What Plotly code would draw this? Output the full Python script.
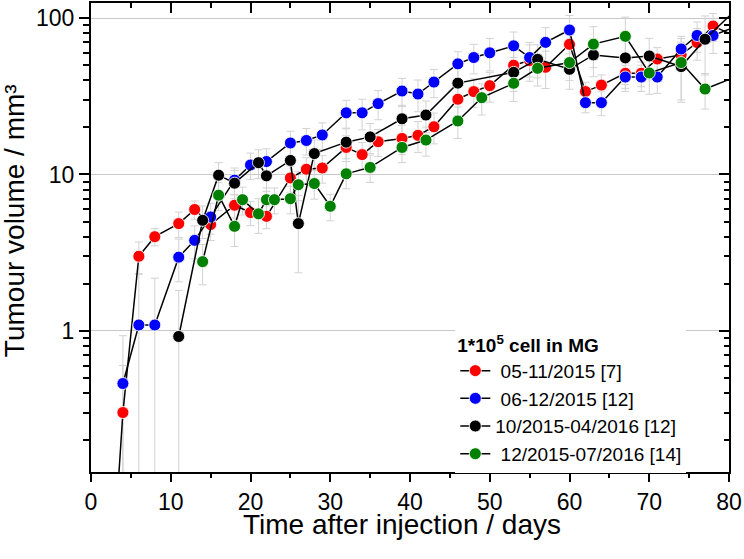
import math
import plotly.graph_objects as go

# ---- data ----
red_days = [3, 4, 6, 8, 11, 13, 15, 18, 20, 22, 25, 27, 29, 32, 34, 36, 39, 41, 43, 46, 48, 50,
            53, 55, 57, 60, 62, 64, 67, 69, 71, 74, 76, 78, 81]
red_vol = [0.05, 0.30, 3.0, 4.0, 4.85, 5.97, 4.78, 6.36, 5.71, 5.4, 9.5, 10.8, 11.0, 14.9, 13.4, 16.2,
           17.0, 17.8, 20.2, 30.3, 33.9, 37.0, 50, 53.5, 48.5, 68, 33.9, 37.3, 44.4, 44.4, 54.8, 58.2,
           69.8, 89, 76]
red_err = [0.0, 0.3, 0.7, 0.5, 0.9, 0.8, 1.0, 1.1, 1.0, 0.9, 1.8, 2.0, 2.2, 2.8, 2.6, 3.2, 3.6, 4.0,
           4.5, 6.5, 7.0, 8.0, 12, 14, 13, 16, 5, 6, 9, 8, 10, 12, 16, 18, 15]

blue_days = [4, 6, 8, 11, 13, 15, 18, 20, 22, 25, 27, 29, 32, 34, 36, 39, 41, 43, 46, 48, 50, 53,
             55, 57, 60, 62, 64, 67, 69, 71, 74, 76, 78, 81]
blue_vol = [0.46, 1.09, 1.09, 2.96, 3.79, 5.35, 9.2, 11.5, 12.1, 15.9, 16.5, 17.9, 24.8, 24.8, 28.4,
            34.2, 32.7, 39, 51, 56, 60, 66.5, 56, 70, 84, 28.8, 28.8, 42, 42, 42, 63.5, 77.5, 77.5, 89]
blue_err = [0.47, 1.23, 1.08, 0.9, 0.9, 1.2, 1.8, 2.2, 2.5, 3.0, 3.2, 3.5, 5, 5.5, 6, 7, 7.5, 8, 10,
            12, 14, 15, 14, 17, 20, 4, 5, 8, 8, 9, 13, 17, 18, 18]

black_days = [11, 14, 16, 18, 21, 22, 25, 26, 28, 32, 35, 39, 42, 46, 53, 56, 60, 63, 67, 70, 74,
              77, 81]
black_vol = [0.92, 5.09, 9.9, 8.8, 11.9, 9.8, 12.3, 4.85, 13.6, 16.1, 17.4, 22.7, 24.0, 38.4, 45,
             54.5, 47.1, 58.2, 55.7, 57.3, 49, 73.3, 115]
black_err = [0.89, 1.2, 2.0, 1.8, 2.5, 2.0, 2.8, 2.5, 3.0, 3.5, 3.8, 5, 5.5, 9, 11, 13, 12, 16, 18,
             17, 20, 30, 25]

green_days = [14, 16, 18, 19, 21, 22, 23, 25, 26, 28, 30, 32, 35, 39, 42, 46, 49, 53, 56, 60, 63,
              67, 70, 74, 77, 81]
green_vol = [2.77, 7.37, 4.66, 6.9, 5.6, 6.9, 6.9, 7.0, 8.6, 8.75, 6.26, 10.1, 11.1, 14.9, 16.6, 22,
             31, 38.3, 47.8, 52, 68.2, 76.5, 44.6, 52, 35.2, 42.5]
green_err = [0.8, 1.5, 1.2, 1.4, 1.4, 1.3, 1.3, 1.4, 1.8, 1.8, 1.2, 2.0, 2.2, 3, 3.5, 5, 7, 9, 11,
             12, 20, 25, 12, 22, 9, 10]

series_names = [" 05-11/2015 [7]", " 06-12/2015 [12]", "10/2015-04/2016 [12]", " 12/2015-07/2016 [14]"]
series_colors = ["#ff0000", "#0000ff", "#000000", "#008000"]
legend_title = "<b>1*10<sup>5</sup> cell in MG</b>"
x_title = "Time after injection / days"
y_title = "Tumour volume / mm³"

FONT = "Liberation Sans, Arial, sans-serif"

series = [
    (red_days, red_vol, red_err),
    (blue_days, blue_vol, blue_err),
    (black_days, black_vol, black_err),
    (green_days, green_vol, green_err),
]

fig = go.Figure()

# error bars first (behind everything)
for (d, v, e) in series:
    fig.add_trace(go.Scatter(
        x=d, y=v, mode="markers",
        marker=dict(size=1, opacity=0),
        error_y=dict(type="data", array=e, visible=True, color="#d2d2d2", thickness=1, width=4),
        showlegend=False, hoverinfo="skip"))

for (d, v, e), name, col in zip(series, series_names, series_colors):
    fig.add_trace(go.Scatter(
        x=d, y=v, mode="lines+markers", name=name,
        line=dict(color="black", width=1.5),
        marker=dict(size=12, color=col, line=dict(color="rgba(255,255,255,0.85)", width=1)),
    ))

# empty trace to create mirrored axes (top / right)
fig.add_trace(go.Scatter(x=[], y=[], xaxis="x2", yaxis="y2", showlegend=False, hoverinfo="skip"))

yr = [math.log10(0.125), math.log10(125)]

fig.update_layout(
    width=744, height=559,
    margin=dict(l=91, r=15, t=3, b=87),
    paper_bgcolor="white", plot_bgcolor="white",
    font=dict(family=FONT, size=23, color="black"),
    showlegend=True,
    xaxis=dict(
        range=[0, 80], tickmode="linear", tick0=0, dtick=10,
        ticks="outside", ticklen=8, tickwidth=1.5, tickcolor="black",
        minor=dict(ticks="outside", ticklen=4, tickwidth=1.5, tickcolor="black", dtick=5, showgrid=False),
        showline=True, linewidth=2, linecolor="black", showgrid=False, zeroline=False,
        tickfont=dict(size=23),
    ),
    xaxis2=dict(
        range=[0, 80], overlaying="x", side="top", anchor="y", tickmode="linear", tick0=0, dtick=10,
        ticks="inside", ticklen=10, tickwidth=1.5, tickcolor="black",
        minor=dict(ticks="inside", ticklen=5, tickwidth=1.5, tickcolor="black", dtick=5, showgrid=False),
        showline=True, linewidth=2, linecolor="black", showgrid=False, zeroline=False,
        showticklabels=False,
    ),
    yaxis=dict(
        type="log", range=yr, tickmode="linear", tick0=0, dtick=1,
        ticks="outside", ticklen=10, tickwidth=1.5, tickcolor="black",
        minor=dict(ticks="outside", ticklen=6, tickwidth=1.5, tickcolor="black", dtick="D1", showgrid=False),
        showline=True, linewidth=2, linecolor="black",
        showgrid=True, gridcolor="#c8c8c8", gridwidth=1, zeroline=False,
        tickfont=dict(size=23),
    ),
    yaxis2=dict(
        type="log", range=yr, overlaying="y", side="right", anchor="x", tickmode="linear", tick0=0, dtick=1,
        ticks="inside", ticklen=10, tickwidth=1.5, tickcolor="black",
        minor=dict(ticks="inside", ticklen=5, tickwidth=1.5, tickcolor="black", dtick="D1", showgrid=False),
        showline=True, linewidth=2, linecolor="black", showgrid=False, zeroline=False,
        showticklabels=False,
    ),
    legend=dict(
        x=0.571, y=0.309, xanchor="left", yanchor="top",
        bgcolor="white", borderwidth=0,
        font=dict(family=FONT, size=19, color="black"),
        title=dict(text=legend_title, font=dict(family=FONT, size=19, color="black")),
        tracegroupgap=0,
    ),
    annotations=[
        dict(text=x_title, x=0.487, y=-0.113, xref="paper", yref="paper",
             xanchor="center", yanchor="middle", showarrow=False,
             font=dict(family=FONT, size=28, color="black")),
        dict(text=y_title, x=-0.1207, y=0.537, xref="paper", yref="paper",
             xanchor="center", yanchor="middle", showarrow=False, textangle=-90,
             font=dict(family=FONT, size=28, color="black")),
    ],
)

fig.write_html("out.html", config={"displayModeBar": False},
               post_script="document.body.style.margin='0';document.body.style.padding='0';")
